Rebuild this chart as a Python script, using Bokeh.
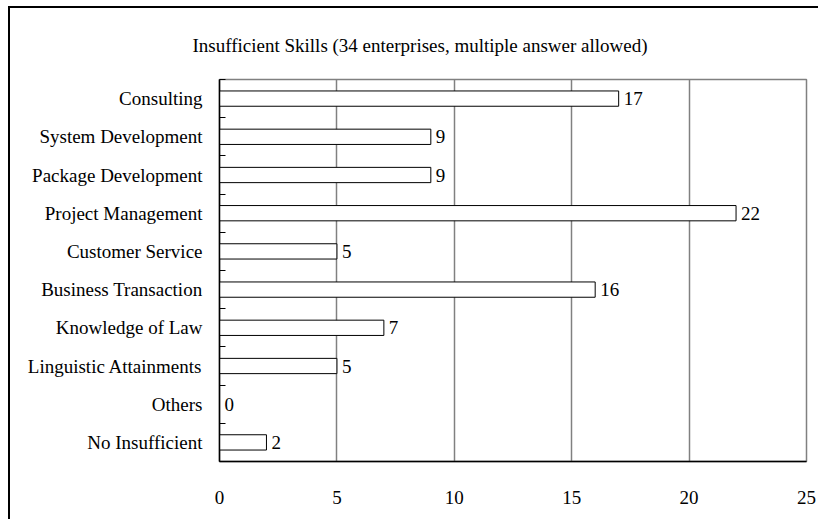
from bokeh.plotting import figure
from bokeh.models import FixedTicker, Title, ColumnDataSource, Range1d
from bokeh.embed import file_html
from bokeh.resources import INLINE

categories = ["Consulting", "System Development", "Package Development",
              "Project Management", "Customer Service", "Business Transaction",
              "Knowledge of Law", "Linguistic Attainments", "Others", "No Insufficient"]
counts = [17, 9, 9, 22, 5, 16, 7, 5, 0, 2]
x_ticks = [0, 5, 10, 15, 20, 25]
title_text = "Insufficient Skills (34 enterprises, multiple answer allowed)"

n = len(categories)
ypos = [n - 0.5 - i for i in range(n)]
src = ColumnDataSource(dict(y=ypos, v=counts, lbl=[str(c) for c in counts], name=categories))

FONT = "Liberation Serif"
FS = "19px"
W, H = 810, 513
p = figure(width=W, height=H, output_backend="svg", toolbar_location=None,
           x_range=Range1d(0, 25), y_range=Range1d(0, n),
           min_border_left=209, min_border_right=14, min_border_top=71, min_border_bottom=60)
p.styles = {"margin-left": "8px", "margin-top": "6px",
            "border-left": "2px solid black", "border-top": "2px solid black"}

p.hbar(y="y", right="v", left=0, height=0.4, source=src,
       fill_color="white", line_color="black", line_width=1)
p.text(x="v", y="y", text="lbl", source=src, x_offset=5,
       text_align="left", text_baseline="middle",
       text_font=FONT, text_font_size=FS, text_color="black")

p.xaxis.ticker = FixedTicker(ticks=x_ticks)
p.xaxis.major_tick_in = 0
p.xaxis.major_tick_out = 0
p.xaxis.minor_tick_line_color = None
p.xaxis.axis_line_color = "black"
p.xaxis.axis_line_width = 1.5
p.xaxis.major_label_standoff = 29
p.xaxis.major_label_text_font = FONT
p.xaxis.major_label_text_font_size = FS
p.xaxis.major_label_text_color = "black"

p.yaxis.ticker = FixedTicker(ticks=ypos, minor_ticks=list(range(n + 1)))
p.yaxis.major_label_overrides = {y: c for y, c in zip(ypos, categories)}
p.yaxis.major_tick_line_color = None
p.yaxis.minor_tick_in = 6
p.yaxis.minor_tick_out = 0
p.yaxis.minor_tick_line_color = "black"
p.yaxis.axis_line_color = "black"
p.yaxis.axis_line_width = 1.5
p.yaxis.major_label_standoff = 11
p.yaxis.major_label_text_font = FONT
p.yaxis.major_label_text_font_size = FS
p.yaxis.major_label_text_color = "black"

p.xgrid.ticker = FixedTicker(ticks=x_ticks)
p.xgrid.grid_line_color = "#808080"
p.xgrid.grid_line_width = 1.5
p.ygrid.grid_line_color = None
p.outline_line_color = "#808080"
p.outline_line_width = 1.5

p.add_layout(Title(text=title_text, align="left", offset=-27, standoff=44,
                   vertical_align="top",
                   text_font=FONT, text_font_size="19px", text_font_style="normal",
                   text_color="black"), "above")

open("out.html", "w").write(file_html(p, INLINE))
